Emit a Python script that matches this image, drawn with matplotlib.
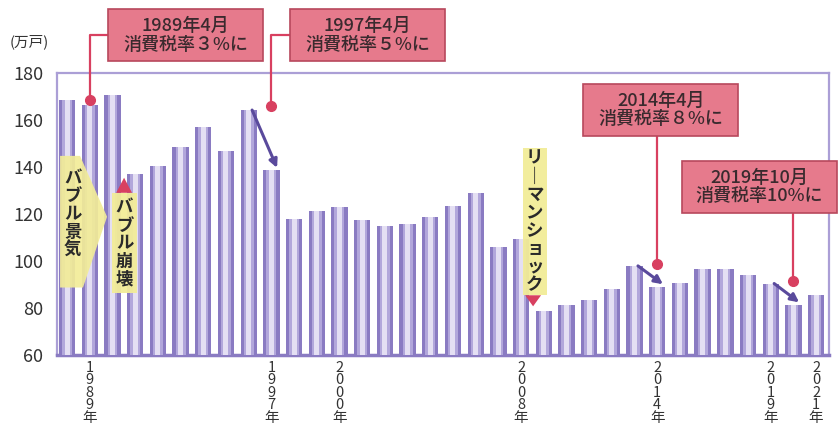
import numpy as np
import matplotlib.pyplot as plt
from matplotlib.patches import Polygon, Rectangle

plt.rcParams['font.family'] = ['Noto Sans CJK JP', 'DejaVu Sans']

# 新設住宅着工戸数（万戸）
years = np.arange(1988, 2022)
starts = [168.5, 166.3, 170.7, 137.0, 140.3, 148.6, 157.0, 147.0, 164.3, 138.7,
          118.0, 121.5, 123.0, 117.4, 115.1, 116.0, 118.9, 123.6, 129.0, 106.1,
          109.4, 78.8, 81.3, 83.4, 88.3, 98.0, 89.2, 90.9, 96.7, 96.5,
          94.2, 90.5, 81.5, 85.6]
label_years = [1989, 1997, 2000, 2008, 2014, 2019, 2021]

# 消費税の注記: 表示する年, 点の高さ, 文言
tax_years = [1989, 1997, 2014, 2020]
tax_dot_y = [168.5, 166.0, 99.0, 91.5]
tax_text = ['1989年4月\n消費税率３%に', '1997年4月\n消費税率５%に',
            '2014年4月\n消費税率８%に', '2019年10月\n消費税率10%に']
# 増税後に下がった年（矢印の始点）
drop_from = [1996, 2013, 2019]

purple = '#8a7bc2'
frame = '#ab9fd6'
red = '#d84060'
yellow = '#f2ec98'

fig = plt.figure(figsize=(8.4, 4.38), dpi=100)
ax = fig.add_axes([0.068, 0.189, 0.919, 0.644])

# 円柱風の棒: 外側が濃く中央が明るい
ax.bar(years, starts, width=0.72, color=purple, zorder=2)
ax.bar(years, starts, width=0.44, color='#b2a7db', zorder=3)
ax.bar(years, starts, width=0.22, color='#e4dff3', zorder=4)

ax.set_xlim(1987.56, 2021.57)
ax.set_ylim(60, 180)
ax.set_yticks(range(60, 181, 20))
ax.tick_params(axis='y', length=0, pad=10, labelsize=13, labelcolor='#333333')
ax.set_xticks(label_years,
              ['\n'.join(str(y) + '年') for y in label_years])
ax.tick_params(axis='x', length=0, pad=4, labelsize=10.5, labelcolor='#333333')
for lbl in ax.get_xticklabels():
    lbl.set_linespacing(0.86)
    lbl.set_verticalalignment('top')
for side in ax.spines.values():
    side.set_color(frame)
    side.set_linewidth(1.6)
ax.spines['bottom'].set_color(purple)
ax.spines['bottom'].set_linewidth(2.5)

fig.text(0.012, 0.905, '(万戸)', fontsize=10.5, color='#333333', va='center')

# バブル景気の矢印形
bubble = Polygon([(1987.69, 144.8), (1988.57, 144.8), (1989.76, 118.9),
                  (1988.70, 88.8), (1987.69, 88.8)],
                 closed=True, fc=yellow, ec='none', alpha=0.92, zorder=6)
ax.add_patch(bubble)
ax.text(1988.25, 120, '\n'.join('バブル景気'), ha='center', va='center',
        fontsize=12.5, fontweight='bold', color='#2a2a2a', linespacing=1.0, zorder=7)

# バブル崩壊
ax.add_patch(Rectangle((1989.98, 86.3), 1.1, 42.8, fc=yellow, ec='none',
                       alpha=0.95, zorder=6))
ax.add_patch(Polygon([(1990.16, 129.1), (1990.86, 129.1), (1990.51, 135.5)],
                     fc=red, ec='none', zorder=6))
ax.text(1990.53, 107.5, '\n'.join('バブル崩壊'), ha='center', va='center',
        fontsize=12.5, fontweight='bold', color='#2a2a2a', linespacing=1.0, zorder=7)

# リーマンショック
ax.add_patch(Rectangle((2008.09, 85.5), 1.06, 62.7, fc=yellow, ec='none',
                       alpha=0.95, zorder=6))
ax.add_patch(Polygon([(2008.18, 85.5), (2008.88, 85.5), (2008.53, 80.8)],
                     fc=red, ec='none', zorder=6))
ax.text(2008.6, 116.8, '\n'.join('リ｜マンショック'), ha='center', va='center',
        fontsize=12.5, fontweight='bold', color='#2a2a2a', linespacing=1.0, zorder=7)

# 下落を示す矢印
for y0 in drop_from:
    i = y0 - years[0]
    ax.annotate('', xy=(years[i + 1] + 0.25, starts[i + 1] + 1),
                xytext=(years[i] + 0.15, starts[i]),
                arrowprops=dict(arrowstyle='-|>', color='#5a4a9c', lw=2.2,
                                mutation_scale=12, shrinkA=0, shrinkB=0),
                zorder=8)

# 消費税の吹き出し
box_w, box_h = 6.83, 22.0
box_xy = [(1989.81, 185.1), (1997.82, 185.1), (2010.73, 153.3), (2015.09, 120.6)]
for yr, dy, (bx, by), txt in zip(tax_years, tax_dot_y, box_xy, tax_text):
    ax.add_patch(Rectangle((bx, by), box_w, box_h, fc='#e67a8c', ec='#b8485c',
                           lw=1.2, clip_on=False, zorder=10))
    ax.text(bx + box_w / 2, by + box_h / 2, txt, ha='center', va='center',
            fontsize=13, fontweight='medium', color='#3a2a2e',
            linespacing=1.05, clip_on=False, zorder=11)
    if by > 180:
        # 箱の左から折れ線で下ろす
        mid = by + box_h / 2
        ax.plot([bx, yr, yr], [mid, mid, dy], color=red, lw=1.6,
                clip_on=False, zorder=9)
    else:
        ax.plot([yr, yr], [by, dy], color=red, lw=1.6, clip_on=False, zorder=9)
    ax.plot(yr, dy, 'o', ms=7, color=red, clip_on=False, zorder=9)

fig.savefig('out.png', dpi=100)
